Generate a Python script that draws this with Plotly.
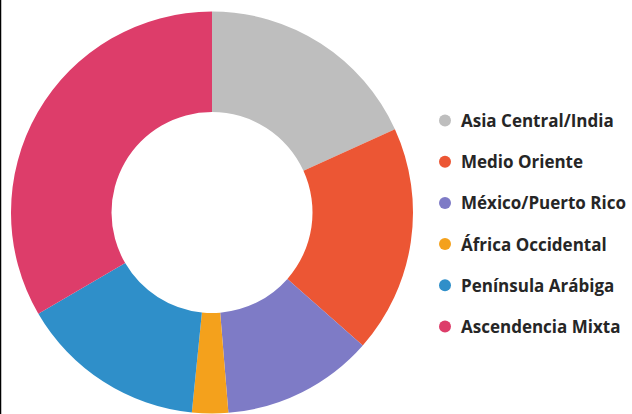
import plotly.graph_objects as go

# Population share by ancestry region (percent)
regions = ["Asia Central/India", "Medio Oriente", "México/Puerto Rico",
           "África Occidental", "Península Arábiga", "Ascendencia Mixta"]
shares = [18.2, 18.3, 12.2, 2.9, 15.0, 33.4]
colors = ["#BEBEBE", "#EC5634", "#7E7BC6", "#F4A11C", "#2F8FC9", "#DD3D6A"]

W, H = 632, 414

fig = go.Figure()

fig.add_trace(go.Pie(
    labels=regions,
    values=shares,
    hole=0.5,
    sort=False,
    direction="clockwise",
    rotation=0,
    marker=dict(colors=colors, line=dict(width=0)),
    textinfo="none",
    showlegend=False,
    domain=dict(x=[11 / W, 413 / W], y=[1 - 414 / H, 1 - 11 / H]),
))

# Legend drawn as a marker column with labels beside it
rows = list(range(len(regions)))
fig.add_trace(go.Scatter(
    x=[0] * len(regions),
    y=rows,
    mode="markers",
    marker=dict(color=colors, size=12, line=dict(width=0)),
    hoverinfo="skip",
    showlegend=False,
    xaxis="x", yaxis="y",
))
for i, name in enumerate(regions):
    fig.add_annotation(
        x=1, y=i, xref="x", yref="y", xshift=-3,
        text=name, showarrow=False, xanchor="left", yanchor="middle",
        font=dict(family="Open Sans", size=17, color="#262626", weight="bold"),
    )

# x: marker at 445px, label start at 462px; y: rows 41.2px apart from 120.5px
x_px0, x_px1 = 445, 462
y_top, y_step = 120.5, 41.2
fig.update_layout(
    width=W, height=H,
    margin=dict(l=0, r=0, t=0, b=0),
    paper_bgcolor="white",
    plot_bgcolor="rgba(0,0,0,0)",
    xaxis=dict(domain=[0, 1], range=[-x_px0 / (x_px1 - x_px0), (W - x_px0) / (x_px1 - x_px0)],
               visible=False, fixedrange=True),
    yaxis=dict(domain=[0, 1], range=[(H - y_top) / y_step, -y_top / y_step],
               visible=False, fixedrange=True),
    shapes=[dict(type="line", xref="paper", yref="paper", x0=0.0008, x1=0.0008,
                 y0=0, y1=1, line=dict(color="black", width=1.5))],
)

fig.write_html("out.html")
